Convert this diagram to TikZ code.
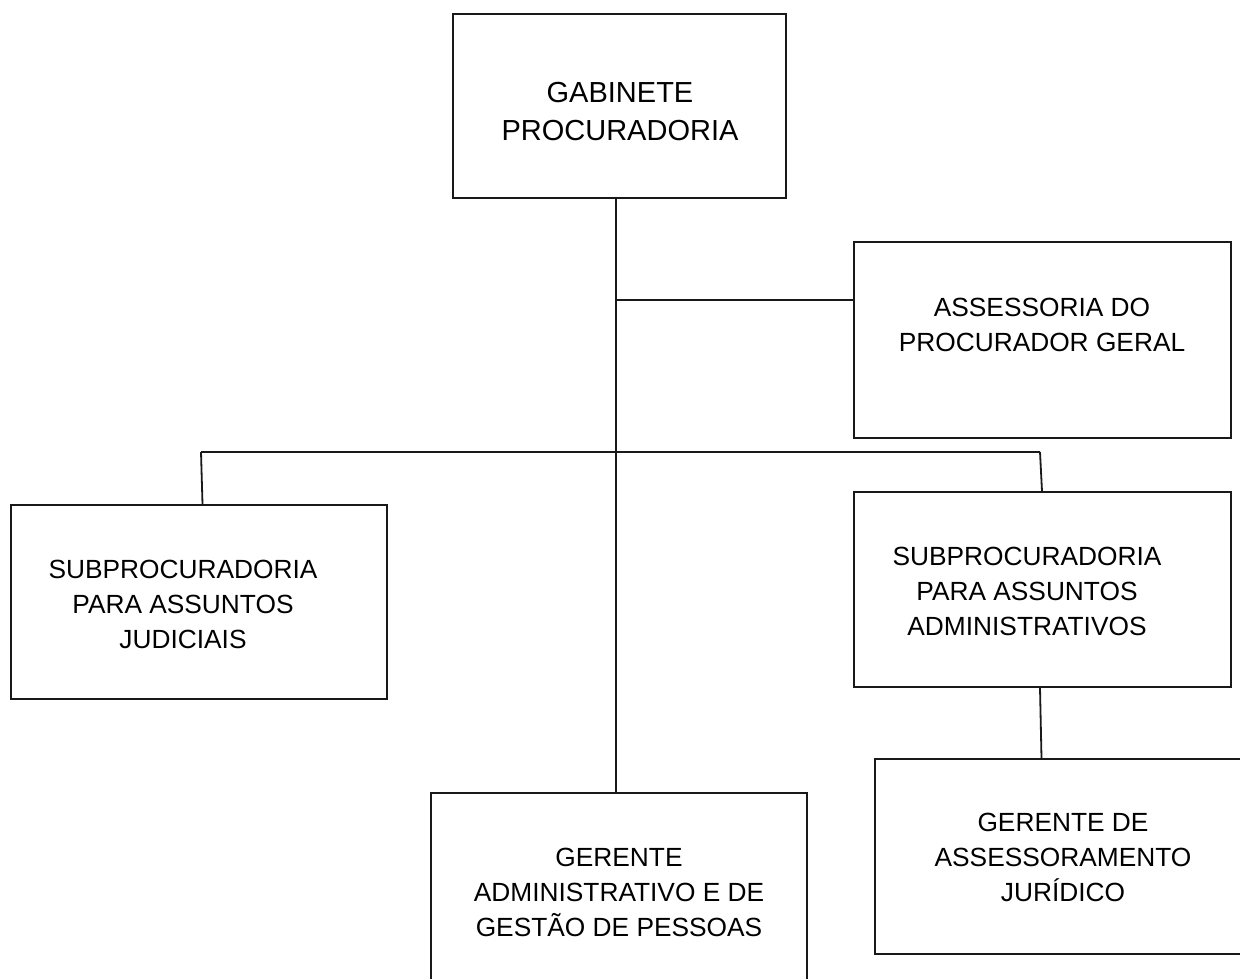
\documentclass[tikz,border=0pt]{standalone}
\usepackage{fontspec}
\setmainfont{Liberation Sans}
\begin{document}
\begin{tikzpicture}[x=1pt,y=-1pt,
  orgbox/.style={draw=black!90, line width=1.8pt, rectangle, inner sep=0pt},
  boxtext/.style={align=center, inner sep=0pt, font=\fontsize{26.3}{35}\selectfont},
  bigtext/.style={align=center, inner sep=0pt, font=\fontsize{29}{37.5}\selectfont},
  link/.style={draw=black!90, line width=1.8pt}]
\clip (0,0) rectangle (1240,979);
\fill[white] (0,0) rectangle (1240,979);
% boxes
\node[orgbox, minimum width=333pt, minimum height=184pt] (gab) at (619.5,106) {};
\node[orgbox, minimum width=377pt, minimum height=196pt] (ass) at (1042.5,340) {};
\node[orgbox, minimum width=376pt, minimum height=194pt] (subj) at (199,602) {};
\node[orgbox, minimum width=377pt, minimum height=195pt] (suba) at (1042.5,589.5) {};
\node[orgbox, minimum width=385pt, minimum height=195pt] (gerj) at (1067.5,856.5) {};
\node[orgbox, minimum width=376pt, minimum height=207pt] (gera) at (619,896.5) {};
% texts
\node[bigtext] (tgab) at (620,111.5) {GABINETE\\PROCURADORIA};
\node[boxtext] (tass) at (1042,325) {ASSESSORIA DO\\PROCURADOR GERAL};
\node[boxtext] (tsubj) at (183,604) {SUBPROCURADORIA\\PARA ASSUNTOS\\JUDICIAIS};
\node[boxtext] (tsuba) at (1027,591) {SUBPROCURADORIA\\PARA ASSUNTOS\\ADMINISTRATIVOS};
\node[boxtext] (tgerj) at (1063,857.5) {GERENTE DE\\ASSESSORAMENTO\\JURÍDICO};
\node[boxtext] (tgera) at (619,892) {GERENTE\\ADMINISTRATIVO E DE\\GESTÃO DE PESSOAS};
% connector points
\coordinate (trunk) at (616,300);
\coordinate (hL) at (201,452);
\coordinate (hR) at (1040,452);
\coordinate (dL) at (202.5,0);
\coordinate (dR) at (1042,0);
\coordinate (dA) at (1040,0);
\coordinate (dG) at (1041.5,0);
% connectors
\draw[link] (gab.south -| trunk) -- (gera.north -| trunk);
\draw[link] (trunk) -- (ass.west |- trunk);
\draw[link] (hL) -- (hR);
\draw[link] (hL) -- (subj.north -| dL);
\draw[link] (hR) -- (suba.north -| dR);
\draw[link] (suba.south -| dA) -- (gerj.north -| dG);
\end{tikzpicture}
\end{document}
